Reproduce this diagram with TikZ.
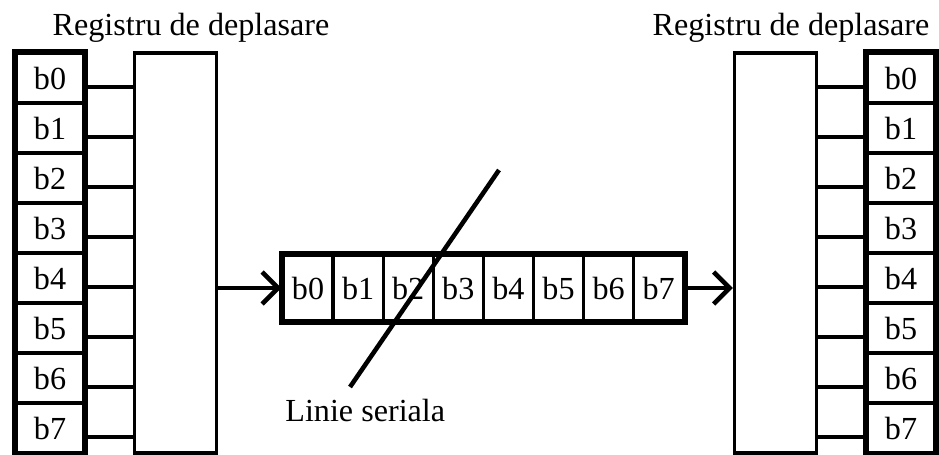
\documentclass[tikz,border=0pt]{standalone}
\usepackage{fontspec}
\setmainfont{Liberation Serif}
\usetikzlibrary{positioning}
\usetikzlibrary{arrows.meta}

\tikzset{
  txt/.style={font=\fontsize{18.3}{22}\selectfont},
  bitcell/.style={draw,txt,line width=1.8pt,minimum width=1.36cm,minimum height=1cm,inner sep=0pt},
  sercell/.style={draw,txt,line width=1.8pt,minimum width=1.002cm,minimum height=1.32cm,inner sep=0pt},
  regbox/.style={draw,line width=2pt,minimum width=1.64cm,minimum height=8cm,inner sep=0pt},
  wire/.style={line width=2pt},
  serarrow/.style={-{Straight Barb[length=0.32cm,width=0.64cm,line width=2.6pt]}}
}

\begin{document}
\begin{tikzpicture}[x=0.02cm,y=-0.02cm]
\useasboundingbox (0,0) rectangle (939,454);

% registrul din stanga
\foreach \i in {0,...,7}
  \node[bitcell] (L\i) at (50,78+50*\i) {b\i};
\draw[line width=2.8pt] (L0.north west) rectangle (L7.south east);
\node[regbox] (stgL) at (175.5,253) {};
\foreach \i in {0,...,7}
  \draw[wire] ([yshift=-0.18cm]L\i.east) -- ([yshift=-0.18cm]L\i.east -| stgL.west);
\node[txt,anchor=base] (titleL) at (191,35) {Registru de deplasare};

% registrul din dreapta
\foreach \i in {0,...,7}
  \node[bitcell] (R\i) at (901,78+50*\i) {b\i};
\draw[line width=2.8pt] (R0.north west) rectangle (R7.south east);
\node[regbox] (stgR) at (775.5,253) {};
\foreach \i in {0,...,7}
  \draw[wire] ([yshift=-0.18cm]R\i.west) -- ([yshift=-0.18cm]R\i.west -| stgR.east);
\node[txt,anchor=base] (titleR) at (791,35) {Registru de deplasare};

% linia seriala
\foreach \i in {0,...,7}
  \node[sercell] (S\i) at (308+50.1*\i,288) {b\i};
\draw[line width=2.6pt] (S0.north west) rectangle (S7.south east);
\draw[wire,serarrow] (S0.west -| stgL.east) -- (S0.west);
\draw[wire,serarrow] (S7.east) -- (S7.east -| stgR.west);

\coordinate (slashTop) at (499,170);
\coordinate (slashBot) at (350,387);
\draw[line width=2.6pt] (slashTop) -- (slashBot);
\node[txt,anchor=base west,inner sep=0pt] (lineLbl) at (285,421) {Linie seriala};

\end{tikzpicture}
\end{document}
